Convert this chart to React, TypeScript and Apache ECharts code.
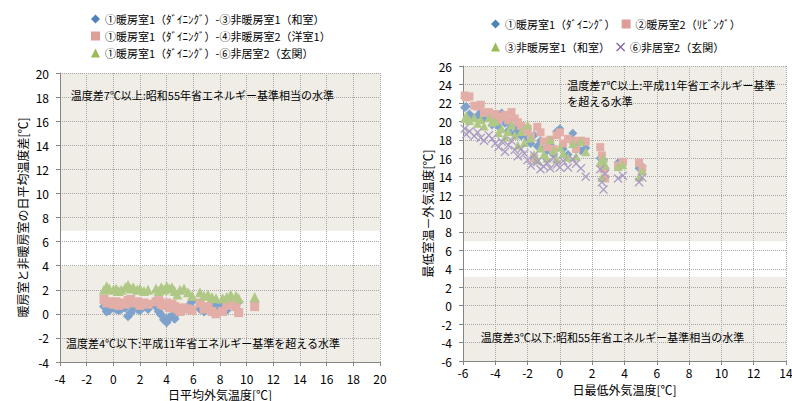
import React, { useEffect, useRef } from "react";
import * as echarts from "echarts";

// ---------- Left chart data (daily mean outdoor temp vs temperature difference) ----------
const leftNames = [
  "①暖房室1（ﾀﾞｲﾆﾝｸﾞ）-③非暖房室1（和室）",
  "①暖房室1（ﾀﾞｲﾆﾝｸﾞ）-④非暖房室2（洋室1）",
  "①暖房室1（ﾀﾞｲﾆﾝｸﾞ）-⑥非居室2（玄関）",
];
const xMean = [
  -0.7, -0.5, -0.3, 0.0, 0.2, 0.4, 0.6, 0.9, 1.1, 1.3, 1.5, 1.8, 2.0, 2.3, 2.6,
  3.2, 3.4, 3.6, 3.8, 4.0, 4.2, 4.4, 4.6, 4.8, 5.0, 5.3, 5.6, 5.9,
  6.5, 6.8, 7.1, 7.4, 7.7, 8.2, 8.5, 8.8, 9.2, 9.4, 10.6,
];
const diffWashitsu = [
  0.6, 0.2, 0.3, 0.5, 0.4, 0.3, 0.4, 0.5, -0.2, 0.1, 0.5, 0.4, 0.3, 0.6, 0.4,
  0.6, 0.2, -0.1, -0.5, -0.7, -0.3, -0.2, -0.4, 0.1, 0.3, 0.4, 0.6, 1.0,
  0.4, 0.2, 0.5, 0.9, 0.6, 0.8, 0.3, 0.9, 1.1, 1.0, 1.0,
];
const diffYoushitsu = [
  1.2, 0.9, 1.0, 0.8, 1.0, 0.7, 0.9, 0.8, 1.1, 1.2, 0.9, 1.0, 0.7, 0.9, 0.8,
  1.0, 1.1, 0.8, 0.7, 0.9, 0.5, 0.8, 0.6, 0.4, 0.2, 0.5, 0.4, 0.3,
  0.9, 0.4, 0.6, 0.2, 0.0, 0.2, 0.7, 0.8, 0.6, 0.1, 0.6,
];
const diffGenkan = [
  2.0, 2.3, 2.1, 2.0, 2.1, 1.9, 2.0, 2.2, 2.4, 2.1, 2.2, 2.0, 2.1, 1.9, 2.0,
  2.1, 1.9, 2.2, 2.0, 2.3, 2.1, 2.2, 1.9, 1.6, 2.0, 2.1, 1.8, 1.5,
  1.8, 1.5, 1.6, 1.4, 1.3, 1.3, 1.4, 1.6, 1.5, 1.3, 1.4,
];

// ---------- Right chart data (daily min outdoor temp vs min room temp − outdoor temp) ----------
const rightNames = [
  "①暖房室1（ﾀﾞｲﾆﾝｸﾞ）",
  "②暖房室2（ﾘﾋﾞﾝｸﾞ）",
  "③非暖房室1（和室）",
  "⑥非居室2（玄関）",
];
const xMin = [
  -5.9, -5.8, -5.6, -5.3, -5.1, -4.9, -4.7, -4.4, -4.2, -4.0, -3.8, -3.6, -3.4, -3.2,
  -3.0, -2.8, -2.6, -2.4, -2.2, -2.0, -1.8, -1.6, -1.4, -1.2, -1.0, -0.8, -0.6, -0.4,
  -0.2, 0.0, 0.2, 0.5, 0.8, 1.0, 1.3, 1.6, 2.5, 2.6, 2.7, 2.8, 3.6, 3.9, 4.9, 5.1,
];
const dDining = [
  21.5, 21.6, 20.8, 20.4, 20.6, 21.0, 20.3, 20.9, 19.6, 20.2, 19.4, 20.9, 19.8, 19.0,
  19.5, 18.7, 19.2, 18.4, 19.0, 18.2, 17.6, 18.5, 17.3, 17.9, 17.0, 16.8, 17.5, 16.5,
  18.9, 19.2, 17.0, 16.4, 18.7, 17.5, 16.8, 17.1, 16.0, 15.3, 15.8, 14.9, 15.5, 15.6, 14.9, 15.1,
];
const dLiving = [
  22.8, 22.6, 22.7, 21.7, 21.6, 21.8, 20.9, 21.0, 20.6, 20.8, 20.2, 20.5, 20.7, 20.1,
  21.0, 20.3, 19.9, 19.5, 19.0, 19.2, 18.4, 16.0, 19.4, 18.8, 17.8, 17.2, 18.0, 17.0,
  18.5, 18.8, 17.6, 18.1, 17.9, 17.0, 17.9, 17.8, 17.2, 16.3, 14.8, 13.8, 15.2, 15.6, 15.5, 14.9,
];
const dWashitsu = [
  20.3, 20.6, 20.1, 20.4, 19.8, 20.2, 19.5, 20.4, 19.9, 20.0, 18.8, 19.2, 18.3, 18.9,
  19.6, 18.5, 17.4, 18.9, 17.7, 19.6, 18.2, 16.4, 15.8, 17.1, 16.4, 16.0, 18.0, 16.8,
  15.9, 17.2, 16.5, 16.1, 17.6, 16.2, 17.8, 16.7, 15.6, 13.9, 16.0, 15.3, 15.1, 15.3, 14.0, 14.6,
];
const dGenkan = [
  19.2, 18.6, 18.9, 18.4, 18.8, 18.2, 17.9, 18.5, 18.1, 17.6, 17.2, 17.8, 16.7, 17.4,
  17.9, 16.9, 16.2, 17.0, 16.5, 15.8, 15.2, 16.3, 15.6, 14.8, 15.1, 15.5, 14.9, 16.0,
  15.3, 15.0, 15.7, 15.0, 15.9, 15.4, 14.9, 14.0, 14.8, 13.4, 12.6, 14.3, 13.8, 14.1, 13.4, 13.9,
];

// ---------- Annotations / bands ----------
const leftBand = [4, 6.9];
const rightBand = [3.1, 7];
const leftNotes = [
  { text: "温度差7℃以上:昭和55年省エネルギー基準相当の水準", coord: [-3.2, 18.2] },
  { text: "温度差4℃以下:平成11年省エネルギー基準を超える水準", coord: [-3.55, -2.4] },
];
const rightNotes = [
  { text: "温度差7℃以上:平成11年省エネルギー基準\nを超える水準", coord: [0.45, 23.1] },
  { text: "温度差3℃以下:昭和55年省エネルギー基準相当の水準", coord: [-4.9, -3.4] },
];

const FONT = '"Noto Sans CJK JP", "Noto Sans", sans-serif';
const CROSS = "path://M1,0L5,4L9,0L10,1L6,5L10,9L9,10L5,6L1,10L0,9L4,5L0,1Z";

const pointColors = ["#7EA2CB", "#E2AEA7", "#B0C886", "#AA9AC2"];
const iconColors = ["#4F81BD", "#DE9D99", "#9BBB59", "#8064A2"];

function pairs(xs: number[], ys: number[]) {
  return xs.map((x, i) => [x, ys[i]]);
}

function scatter(name: string, g: number, data: number[][], symbol: string, size: number, color: string) {
  return {
    type: "scatter",
    name,
    xAxisIndex: g,
    yAxisIndex: g,
    data,
    symbol,
    symbolSize: size,
    itemStyle: { color, opacity: 1 },
    z: 3,
  };
}

function decor(g: number, band: number[], notes: { text: string; coord: number[] }[]) {
  return {
    type: "scatter",
    name: "decor" + g,
    xAxisIndex: g,
    yAxisIndex: g,
    data: [],
    z: 1,
    silent: true,
    markArea: {
      silent: true,
      itemStyle: { color: "#FFFFFF" },
      data: [[{ yAxis: band[0] }, { yAxis: band[1] }]],
    },
    markPoint: {
      silent: true,
      symbol: "circle",
      symbolSize: 0,
      data: notes.map((n) => ({
        coord: n.coord,
        label: {
          show: true,
          formatter: n.text,
          position: "right",
          distance: 0,
          align: "left",
          verticalAlign: "middle",
          fontSize: 11,
          lineHeight: 16,
          color: "#000",
          fontFamily: FONT,
        },
      })),
    },
  };
}

function xAxis(g: number, min: number, max: number, name: string, labelMargin: number, nameGap: number) {
  return {
    type: "value",
    gridIndex: g,
    min,
    max,
    interval: 2,
    name,
    nameLocation: "middle",
    nameGap,
    nameTextStyle: { fontSize: 12, color: "#000", fontFamily: FONT },
    axisLine: { show: true, onZero: false, lineStyle: { color: "#868686" } },
    axisTick: { show: true, length: 4, lineStyle: { color: "#868686" } },
    axisLabel: { fontSize: 12, color: "#000", margin: labelMargin, fontFamily: FONT },
    splitLine: { show: true, lineStyle: { color: "#A6A6A6", type: "dotted" } },
    z: 2,
  };
}

function yAxis(g: number, min: number, max: number, name: string, labelMargin: number, nameGap: number) {
  return {
    type: "value",
    gridIndex: g,
    position: "left",
    min,
    max,
    interval: 2,
    name,
    nameLocation: "middle",
    nameGap,
    nameTextStyle: { fontSize: 12, color: "#000", fontFamily: FONT },
    axisLine: { show: true, onZero: false, lineStyle: { color: "#868686" } },
    axisTick: { show: true, length: 4, lineStyle: { color: "#868686" } },
    axisLabel: { fontSize: 12, color: "#000", margin: labelMargin, fontFamily: FONT },
    splitLine: { show: true, lineStyle: { color: "#A6A6A6", type: "dotted" } },
    z: 2,
  };
}

const legendText = { fontSize: 11, color: "#000", fontFamily: FONT, lineHeight: 12 };

export default function App() {
  const ref = useRef<HTMLDivElement>(null);

  useEffect(() => {
    document.body.style.margin = "0";
    if (!ref.current) return;
    const chart = echarts.init(ref.current, null, { renderer: "svg" });
    const leftSymbols = ["diamond", "rect", "triangle"];
    const rightSymbols = ["diamond", "rect", "triangle", CROSS];
    const leftData = [diffWashitsu, diffYoushitsu, diffGenkan];
    const rightData = [dDining, dLiving, dWashitsu, dGenkan];

    const gridBase = {
      show: true,
      backgroundColor: "#EFEDE6",
      borderWidth: 0,
      containLabel: false,
      outerBoundsMode: "none",
    };

    const option: any = {
      animation: false,
      backgroundColor: "#FFFFFF",
      textStyle: { fontFamily: FONT },
      grid: [
        { ...gridBase, left: 60, top: 73, width: 320, height: 289 },
        { ...gridBase, left: 463, top: 66, width: 323, height: 295 },
      ],
      legend: [
        {
          orient: "vertical",
          left: 86,
          top: 8,
          itemWidth: 9,
          itemHeight: 9,
          itemGap: 5,
          textStyle: legendText,
          data: leftNames.map((n, i) => ({ name: n, icon: leftSymbols[i], itemStyle: { color: iconColors[i] } })),
        },
        {
          orient: "horizontal",
          left: 486,
          top: 13,
          itemWidth: 9,
          itemHeight: 9,
          itemGap: 6,
          textStyle: legendText,
          data: [0, 1].map((i) => ({ name: rightNames[i], icon: rightSymbols[i], itemStyle: { color: iconColors[i] } })),
        },
        {
          orient: "horizontal",
          left: 486,
          top: 36,
          itemWidth: 9,
          itemHeight: 9,
          itemGap: 6,
          textStyle: legendText,
          data: [2, 3].map((i) => ({ name: rightNames[i], icon: rightSymbols[i], itemStyle: { color: iconColors[i] } })),
        },
      ],
      xAxis: [
        xAxis(0, -4, 20, "日平均外気温度[℃]", 10, 20),
        xAxis(1, -6, 14, "日最低外気温度[℃]", 5, 22),
      ],
      yAxis: [
        yAxis(0, -4, 20, "暖房室と非暖房室の日平均温度差[℃]", 11, 32),
        yAxis(1, -6, 26, "最低室温－外気温度[℃]", 11, 30),
      ],
      series: [
        decor(0, leftBand, leftNotes),
        decor(1, rightBand, rightNotes),
        ...leftNames.map((n, i) =>
          scatter(n, 0, pairs(xMean, leftData[i]), leftSymbols[i], i === 1 ? 9 : 10, pointColors[i])
        ),
        ...rightNames.map((n, i) =>
          scatter(n, 1, pairs(xMin, rightData[i]), rightSymbols[i], i === 1 ? 8 : 9, pointColors[i])
        ),
      ],
    };
    chart.setOption(option);
    return () => chart.dispose();
  }, []);

  return <div ref={ref} style={{ width: 792, height: 401 }} />;
}
